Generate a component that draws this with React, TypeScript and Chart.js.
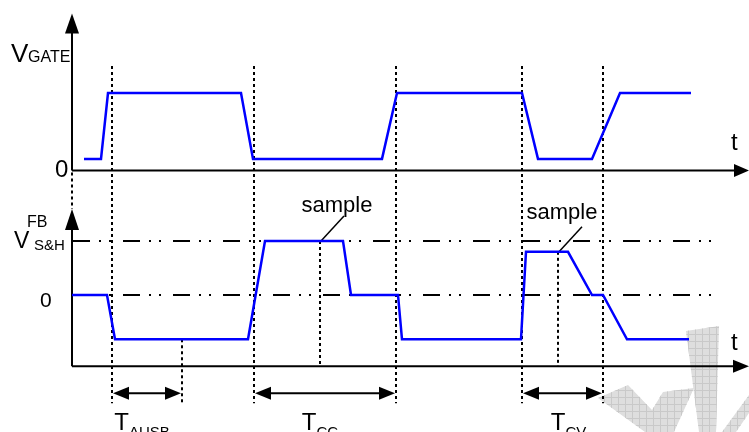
import React, { useEffect, useRef } from "react";
import { Chart, registerables } from "chart.js";

Chart.register(...registerables);

// ---- data (time in arbitrary units, 0 = vertical axis) ----
const gateTimes = [12, 29, 36, 169, 181, 310, 325, 450, 466, 520, 548, 619];
const gateLevels = [0.15, 0.15, 1, 1, 0.15, 0.15, 1, 1, 0.15, 0.15, 1, 1];

const fbTimes = [0, 35, 43, 176, 193, 271, 279, 326, 330, 449, 454, 496, 520, 531, 555, 617];
const fbLevels = [0, 0, -0.82, -0.82, 1, 1, 0, 0, -0.82, -0.82, 0.8, 0.8, 0, 0, -0.82, -0.82];

const markerTimes = [40, 182, 324, 450, 531];
const sampleTimes = [248, 486];
const sampleLevels = [1, 0.8];
const ausbEndTime = 110;
const ausbEndLevel = -0.82;
const refLevels = [1, 0]; // V_S&H and 0 reference lines
const refEndTime = 640;

const intervalStarts = [40, 182, 450];
const intervalEnds = [110, 324, 531];
const intervalSubs = ["AUSB", "CC", "CV"];

// ---- layout ----
const W = 749;
const H = 432;
const X_MIN = -72;
const X_MAX = 677;
const GATE_ZERO_PX = 170.5;
const GATE_UNIT_PX = 77.5;
const FB_ZERO_PX = 295;
const FB_UNIT_PX = 54;
const FB_AXIS_LEVEL = -1.32;
const sampleLabelDx = [-7, -20];
const sampleLabelDy = [-4, -8];
const intervalLabelDx = [-5, -5, 6];

const FONT = '"Liberation Sans", Arial, Helvetica, sans-serif';

const gateMin = (GATE_ZERO_PX - H) / GATE_UNIT_PX;
const gateMax = GATE_ZERO_PX / GATE_UNIT_PX;
const fbMin = (FB_ZERO_PX - H) / FB_UNIT_PX;
const fbMax = FB_ZERO_PX / FB_UNIT_PX;

function line(ctx: CanvasRenderingContext2D, x1: number, y1: number, x2: number, y2: number, w: number, dash: number[] = [], offset = 0) {
  ctx.save();
  ctx.beginPath();
  ctx.setLineDash(dash);
  ctx.lineDashOffset = offset;
  ctx.lineWidth = w;
  ctx.strokeStyle = "#000";
  ctx.moveTo(x1, y1);
  ctx.lineTo(x2, y2);
  ctx.stroke();
  ctx.restore();
}

function head(ctx: CanvasRenderingContext2D, tx: number, ty: number, dx: number, dy: number, len: number, hw: number) {
  const bx = tx - dx * len;
  const by = ty - dy * len;
  const px = -dy;
  const py = dx;
  ctx.save();
  ctx.beginPath();
  ctx.fillStyle = "#000";
  ctx.moveTo(tx, ty);
  ctx.lineTo(bx + px * hw, by + py * hw);
  ctx.lineTo(bx - px * hw, by - py * hw);
  ctx.closePath();
  ctx.fill();
  ctx.restore();
}

function text(ctx: CanvasRenderingContext2D, s: string, x: number, y: number, size: number, align: CanvasTextAlign = "left") {
  ctx.save();
  ctx.font = `${size}px ${FONT}`;
  ctx.fillStyle = "#000";
  ctx.textAlign = align;
  ctx.textBaseline = "alphabetic";
  ctx.fillText(s, x, y);
  ctx.restore();
}

function watermark(ctx: CanvasRenderingContext2D) {
  const polys: number[][][] = [
    [[686, 331], [719, 326], [716, 432], [699, 432]],
    [[598, 398], [628, 385], [652, 410], [663, 392], [694, 388], [674, 432], [645, 432]],
    [[749, 395], [749, 413], [736, 432], [722, 432]],
  ];
  for (const p of polys) {
    ctx.save();
    ctx.beginPath();
    ctx.moveTo(p[0][0], p[0][1]);
    for (let i = 1; i < p.length; i++) ctx.lineTo(p[i][0], p[i][1]);
    ctx.closePath();
    ctx.fillStyle = "#dedede";
    ctx.fill();
    ctx.clip();
    ctx.strokeStyle = "#c9c9c9";
    ctx.lineWidth = 1;
    ctx.beginPath();
    for (let gx = 590.5; gx < 750; gx += 7) {
      ctx.moveTo(gx, 320);
      ctx.lineTo(gx, 432);
    }
    for (let gy = 320.5; gy < 432; gy += 7) {
      ctx.moveTo(590, gy);
      ctx.lineTo(749, gy);
    }
    ctx.stroke();
    ctx.restore();
  }
}

const diagramPlugin = {
  id: "timingDiagram",
  beforeDatasetsDraw(chart: any) {
    const ctx: CanvasRenderingContext2D = chart.ctx;
    const sx = chart.scales.x;
    const sg = chart.scales.yG;
    const sf = chart.scales.yF;
    const X = (t: number) => sx.getPixelForValue(t);
    const G = (v: number) => sg.getPixelForValue(v);
    const F = (v: number) => sf.getPixelForValue(v);

    watermark(ctx);

    const x0 = X(0);
    const gAxis = G(0);
    const fAxis = F(FB_AXIS_LEVEL);
    const right = chart.chartArea.right;

    // reference dash-dot lines
    for (const lv of refLevels) {
      line(ctx, x0, F(lv), X(refEndTime), F(lv), 2, [17, 9, 2, 8, 2, 12], -1);
    }

    // top axes
    line(ctx, x0, gAxis, right - 12, gAxis, 2);
    head(ctx, right, gAxis, 1, 0, 15, 6.5);
    const gTop = gAxis - 157;
    line(ctx, x0, gAxis, x0, gTop + 12, 2);
    head(ctx, x0, gTop, 0, -1, 20, 7);

    // bottom axes
    const fTop = F(1) - 32;
    line(ctx, x0, fAxis, right - 12, fAxis, 2);
    head(ctx, right, fAxis, 1, 0, 16, 6.5);
    line(ctx, x0, fAxis, x0, fTop + 12, 2);
    head(ctx, x0, fTop, 0, -1, 21, 7);
    // dotted continuation between panels
    line(ctx, x0, gAxis + 2, x0, fTop, 2, [3, 3]);

    // vertical markers
    const vTop = G(1) - 27;
    const vBot = fAxis + 37;
    for (const t of markerTimes) line(ctx, X(t), vTop, X(t), vBot, 2, [3, 3]);
    line(ctx, X(ausbEndTime), F(ausbEndLevel), X(ausbEndTime), vBot, 2, [3, 3]);
    sampleTimes.forEach((t, i) => {
      line(ctx, X(t), F(sampleLevels[i]), X(t), fAxis, 2, [3, 3]);
    });

    // interval arrows
    const aY = fAxis + 27;
    intervalStarts.forEach((t0, i) => {
      const a = X(t0) + 1;
      const b = X(intervalEnds[i]) - 1;
      line(ctx, a + 10, aY, b - 10, aY, 2);
      head(ctx, a, aY, -1, 0, 16, 6.5);
      head(ctx, b, aY, 1, 0, 16, 6.5);
      // label T with subscript
      ctx.save();
      ctx.font = `24px ${FONT}`;
      const wT = ctx.measureText("T").width;
      ctx.font = `15px ${FONT}`;
      const wS = ctx.measureText(intervalSubs[i]).width;
      ctx.restore();
      const cx = (a + b) / 2 + intervalLabelDx[i];
      const lx = cx - (wT + wS) / 2;
      text(ctx, "T", lx, 430, 24);
      text(ctx, intervalSubs[i], lx + wT, 437, 15);
    });

    // sample labels with leader lines
    sampleTimes.forEach((t, i) => {
      const px = X(t);
      const py = F(sampleLevels[i]);
      const ex = px + 24;
      const ey = py - 25;
      line(ctx, px + 1, py, ex, ey, 1.5);
      text(ctx, "sample", ex + sampleLabelDx[i], ey + sampleLabelDy[i], 22, "center");
    });

    // axis labels
    text(ctx, "V", 11, 62, 26);
    text(ctx, "GATE", 28, 62, 16);
    text(ctx, "0", 55, 177, 24);
    text(ctx, "FB", 27, 227, 16);
    text(ctx, "V", 14, 248, 23);
    text(ctx, "S&H", 34, 250, 15);
    text(ctx, "0", 40, 307, 21);
    text(ctx, "t", 731, 150, 24);
    text(ctx, "t", 731, 350, 24);
  },
};

export default function App() {
  const ref = useRef<HTMLCanvasElement | null>(null);
  useEffect(() => {
    if (!ref.current) return;
    const chart = new Chart(ref.current, {
      type: "scatter",
      data: {
        datasets: [
          {
            label: "VGATE",
            data: gateTimes.map((t, i) => ({ x: t, y: gateLevels[i] })),
            yAxisID: "yG",
            showLine: true,
            borderColor: "#0000ff",
            backgroundColor: "#0000ff",
            borderWidth: 2.5,
            pointRadius: 0,
            tension: 0,
            clip: false as any,
          },
          {
            label: "VFB S&H",
            data: fbTimes.map((t, i) => ({ x: t, y: fbLevels[i] })),
            yAxisID: "yF",
            showLine: true,
            borderColor: "#0000ff",
            backgroundColor: "#0000ff",
            borderWidth: 2.5,
            pointRadius: 0,
            tension: 0,
            clip: false as any,
          },
        ],
      },
      options: {
        responsive: false,
        maintainAspectRatio: false,
        animation: false,
        devicePixelRatio: 1,
        layout: { padding: 0 },
        plugins: { legend: { display: false }, tooltip: { enabled: false } },
        scales: {
          x: { type: "linear", min: X_MIN, max: X_MAX, display: false },
          yG: { type: "linear", min: gateMin, max: gateMax, display: false },
          yF: { type: "linear", min: fbMin, max: fbMax, display: false },
        },
      },
      plugins: [diagramPlugin],
    });
    return () => chart.destroy();
  }, []);
  return (
    <div style={{ position: "absolute", left: 0, top: 0, width: W, height: H, background: "#fff" }}>
      <canvas ref={ref} width={W} height={H} style={{ display: "block" }} />
    </div>
  );
}
